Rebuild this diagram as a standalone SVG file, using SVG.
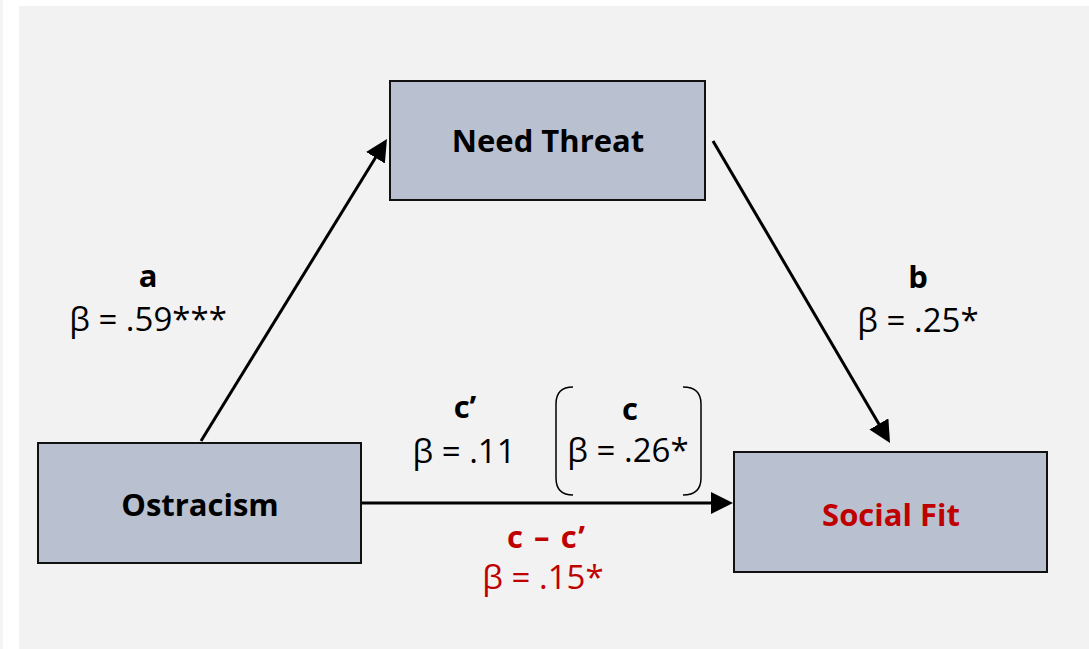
<svg xmlns="http://www.w3.org/2000/svg" width="1089" height="649" viewBox="0 0 1089 649">
<style>
.box{fill:#b9c0d0;stroke:#111;stroke-width:2}
.t{font-family:"Open Sans","Liberation Sans",sans-serif;text-anchor:middle;fill:#000}
.b{font-weight:bold;font-size:31px}
.n{font-size:33px}
.red{fill:#c00000}
.ln{stroke:#000;stroke-width:3;fill:none}
.br{stroke:#000;stroke-width:1.5;fill:none}
</style>
<defs>
<marker id="ah" markerUnits="userSpaceOnUse" markerWidth="24" markerHeight="24" refX="2" refY="11" orient="auto">
<path d="M0,0 L22,11 L0,22 z" fill="#000"/>
</marker>
</defs>
<rect x="0" y="0" width="1089" height="649" fill="#fff"/>
<rect x="0" y="0" width="3" height="649" fill="#f4f4f4"/>
<rect x="19" y="6" width="1070" height="643" fill="#f2f2f2"/>
<g id="connectors">
<line class="ln" x1="201" y1="441" x2="376.5" y2="156" marker-end="url(#ah)"/>
<line class="ln" x1="713" y1="141" x2="879.9" y2="425.7" marker-end="url(#ah)"/>
<line class="ln" x1="362" y1="503" x2="713" y2="503" marker-end="url(#ah)"/>
</g>
<g id="need-threat">
<rect class="box" x="390" y="81" width="315" height="119"/>
<text class="t b" x="548" y="152">Need Threat</text>
</g>
<g id="ostracism">
<rect class="box" x="38" y="443" width="323" height="120"/>
<text class="t b" x="200" y="516">Ostracism</text>
</g>
<g id="social-fit">
<rect class="box" x="734" y="452" width="313" height="120"/>
<text class="t b red" x="891" y="526">Social Fit</text>
</g>
<g id="label-a">
<text class="t b" x="148" y="287">a</text>
<text class="t n" x="148" y="331">β = .59***</text>
</g>
<g id="label-b">
<text class="t b" x="918" y="288">b</text>
<text class="t n" x="918" y="332">β = .25*</text>
</g>
<g id="label-cprime">
<text class="t b" x="465" y="418">c’</text>
<text class="t n" x="464" y="463">β = .11</text>
</g>
<g id="label-c">
<path class="br" d="M573,387 Q556,387 556,404 L556,478 Q556,495 573,495"/>
<path class="br" d="M683,387 Q701,387 701,404 L701,478 Q701,495 683,495"/>
<text class="t b" x="630" y="420">c</text>
<text class="t n" x="628" y="462">β = .26*</text>
</g>
<g id="label-indirect">
<text class="t b red" x="546" y="548" textLength="78" lengthAdjust="spacing">c – c’</text>
<text class="t n red" x="543" y="589">β = .15*</text>
</g>
</svg>
